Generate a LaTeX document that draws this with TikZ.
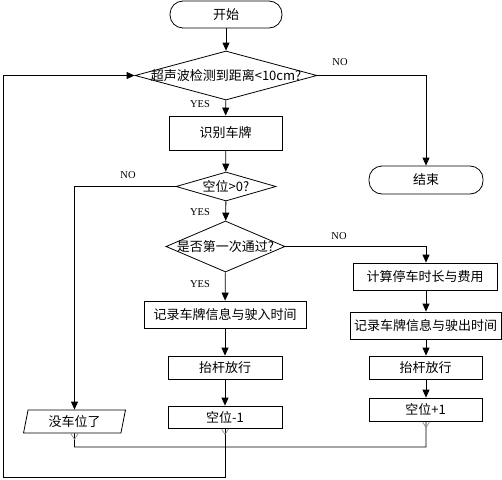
\documentclass[tikz,border=0pt]{standalone}
\usepackage{fontspec}
\setmainfont{Liberation Serif}
\newfontfamily\cjk{Noto Sans CJK SC}
\usetikzlibrary{arrows.meta,shapes.geometric}

\begin{document}
\begin{tikzpicture}[x=1pt,y=-1pt,line width=0.8pt,
    box/.style={draw,rectangle,inner sep=0pt,font=\cjk\fontsize{13}{15}\selectfont},
    term/.style={box,rounded corners=13pt},
    dec/.style={draw,diamond,inner sep=0pt,font=\cjk\fontsize{13}{15}\selectfont},
    slant/.style={draw,trapezium,trapezium left angle=78,trapezium right angle=102,
      trapezium stretches=true,inner sep=0pt,font=\cjk\fontsize{13}{15}\selectfont},
    arr/.style={-{Triangle[length=8pt,width=7pt]}},
    lab/.style={font=\fontsize{10.5}{12}\selectfont},
    stub/.style={draw=gray,line width=0.6pt}]
  \useasboundingbox (0,0) rectangle (502,479);
  % top part
  \node[term,minimum width=112pt,minimum height=27pt] (start) at (226,14.5) {开始};
  \node[dec,minimum width=182pt,minimum height=49pt] (sonar) at (226,75.5) {\makebox[0pt]{超声波检测到距离<10cm?}};
  \node[box,minimum width=113pt,minimum height=34pt] (plate) at (225.5,133) {识别车牌};
  \node[term,minimum width=114pt,minimum height=28pt] (stop) at (426,180) {结束};
  \node[dec,minimum width=100pt,minimum height=29pt] (free) at (226,186.5) {\makebox[0pt]{空位>0?}};
  \node[dec,minimum width=119pt,minimum height=51pt] (first) at (225.5,246.5) {\makebox[0pt]{是否第一次通过?}};
  % left column
  \node[box,minimum width=162pt,minimum height=27pt] (recin) at (225,314.5) {记录车牌信息与驶入时间};
  \node[box,minimum width=114pt,minimum height=23pt] (liftl) at (225,367.5) {抬杆放行};
  \node[box,minimum width=114pt,minimum height=22pt] (minus) at (225,417) {空位-1};
  \node[slant,minimum width=102pt,minimum height=23pt] (full) at (74.5,421.5) {没车位了};
  % right column
  \node[box,minimum width=144pt,minimum height=27pt] (cost) at (425,276.5) {计算停车时长与费用};
  \node[box,minimum width=151pt,minimum height=27pt] (recout) at (425.5,325.5) {记录车牌信息与驶出时间};
  \node[box,minimum width=113pt,minimum height=23pt] (liftr) at (425.5,367.5) {抬杆放行};
  \node[box,minimum width=113pt,minimum height=23pt] (plus) at (425.5,409.5) {空位+1};
  % labels
  \node[lab] (y1) at (200,104) {YES};
  \node[lab] (n1) at (340,62) {NO};
  \node[lab] (n2) at (128,175) {NO};
  \node[lab] (y2) at (200,212) {YES};
  \node[lab] (n3) at (339,236) {NO};
  \node[lab] (y3) at (200,284) {YES};
  % connectors
  \coordinate (c1) at (426,75.5);
  \coordinate (c2) at (74.5,186.5);
  \coordinate (c3) at (426,246.5);
  \coordinate (m1) at (74.5,447);
  \coordinate (m2) at (426,447);
  \coordinate (b1) at (225,477);
  \coordinate (b2) at (3,477);
  \coordinate (b3) at (3,75.5);
  \draw[arr] (start) -- (sonar);
  \draw[arr] (sonar) -- (plate);
  \draw[arr] (sonar.east) -- (c1) -- (stop);
  \draw[arr] (plate) -- (free);
  \draw[arr] (free.west) -- (c2) -- (full);
  \draw[arr] (free) -- (first);
  \draw[arr] (first.east) -- (c3) -- (cost.north -| c3);
  \draw[arr] (first) -- (recin);
  \draw[arr] (recin) -- (liftl);
  \draw[arr] (liftl) -- (minus);
  \draw[arr] (cost.south -| c3) -- (recout.north -| c3);
  \draw[arr] (recout.south -| c3) -- (liftr.north -| c3);
  \draw[arr] (liftr.south -| c3) -- (plus.north -| c3);
  \draw (full.south) -- (m1) -- (m2) -- (plus.south -| m2);
  \draw[arr] (minus) -- (b1) -- (b2) -- (b3) -- (sonar.west);
  % small grey marks under the boxes
  \foreach \n/\x in {full/74.5,minus/225,plus/426}
    \draw[stub] ([xshift=-3.5pt,yshift=-0.5pt]\n.south -| \x,0) -- ([yshift=-6pt]\n.south -| \x,0) -- ([xshift=3.5pt,yshift=-0.5pt]\n.south -| \x,0);
\end{tikzpicture}
\end{document}
